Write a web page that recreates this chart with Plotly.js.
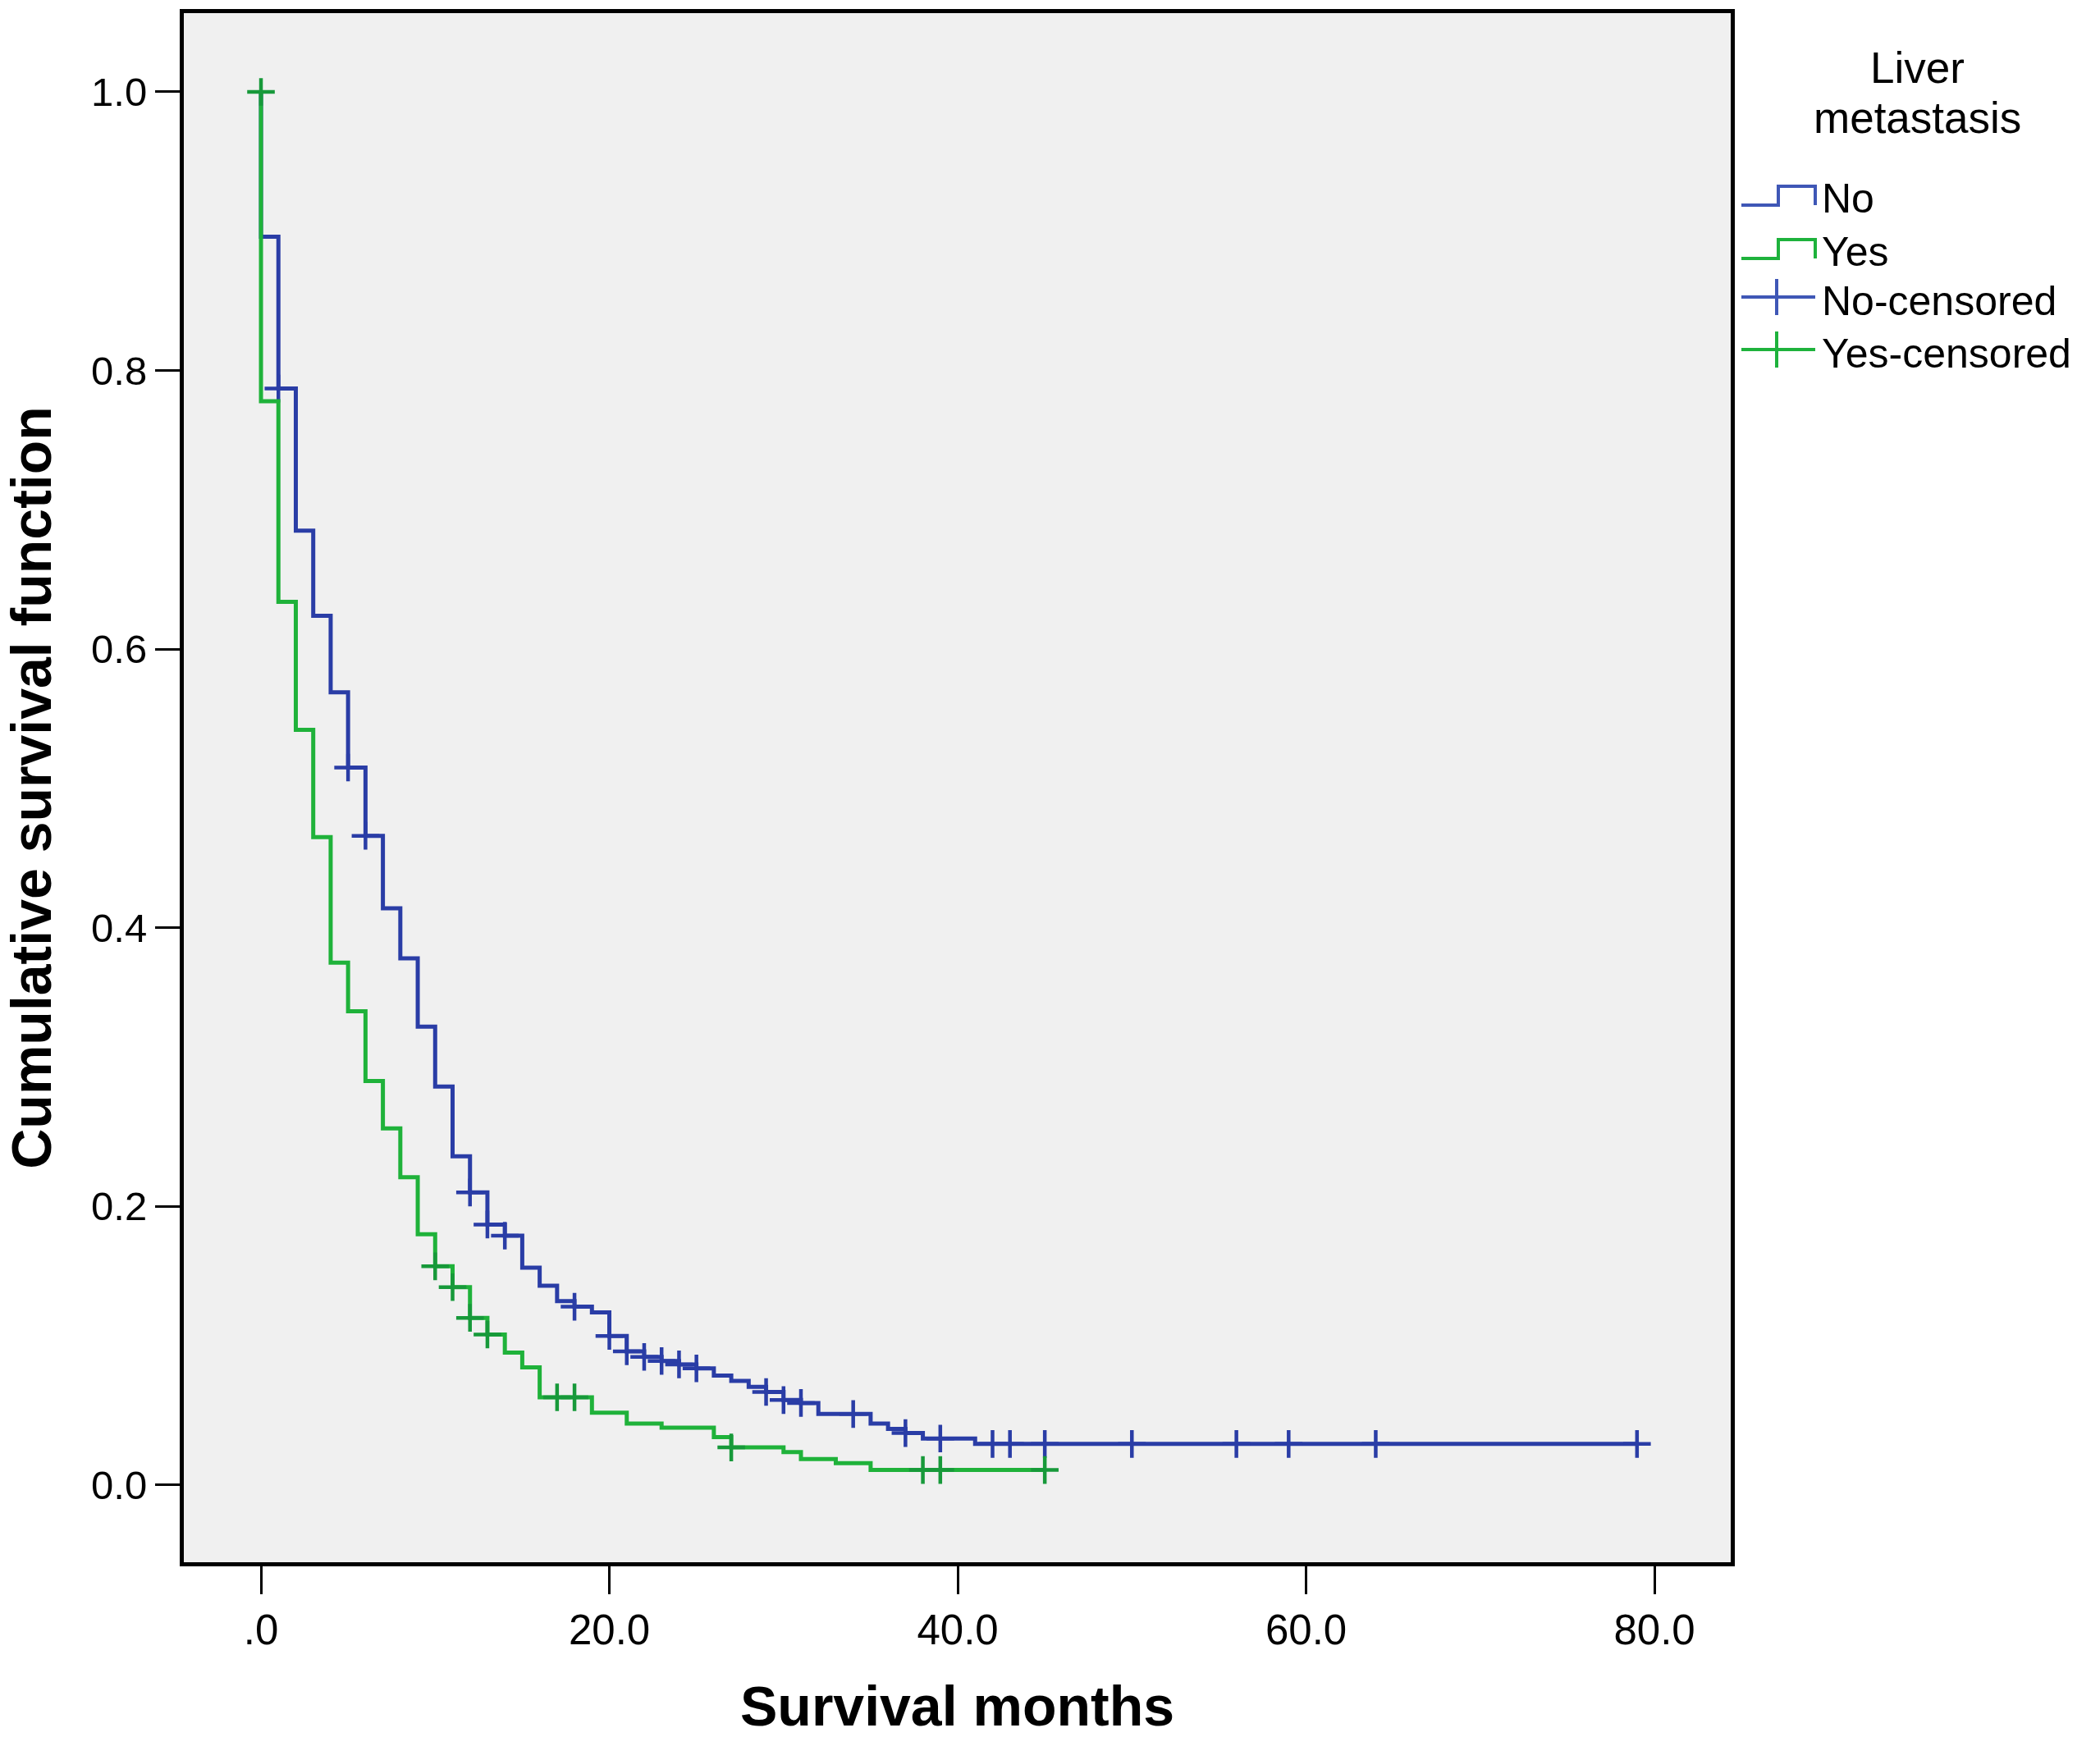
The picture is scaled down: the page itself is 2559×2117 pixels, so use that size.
<!DOCTYPE html>
<html>
<head>
<meta charset="utf-8">
<script src="https://cdn.plot.ly/plotly-3.0.1.min.js"></script>
<style>html,body{margin:0;padding:0;background:#ffffff;}</style>
</head>
<body>
<div id="chart" style="width:2559px;height:2117px;"></div>
<script>
// ---- Data ----
const noEventTimes = [0,1,2,3,4,5,6,7,8,9,10,11,12,13,14,15,16,17,18,19,20,21,22,23,24,25,26,27,28,29,30,31,32,35,36,37,38,41];
const noSurvival   = [0.896,0.787,0.685,0.624,0.569,0.515,0.466,0.414,0.378,0.329,0.286,0.236,0.210,0.187,0.179,0.156,0.143,0.132,0.128,0.124,0.107,0.096,0.092,0.089,0.0866,0.0837,0.0786,0.0747,0.0705,0.0668,0.0610,0.0589,0.0510,0.0442,0.0403,0.0373,0.0334,0.0295];
const noCensoredTimes = [1,5,6,12,13,14,18,20,21,22,23,24,25,29,30,31,34,37,39,42,43,45,50,56,59,64,79];
const noEndTime = 79;

const yesEventTimes = [0,1,2,3,4,5,6,7,8,9,10,11,12,13,14,15,16,19,21,23,26,27,30,31,33,35];
const yesSurvival   = [0.778,0.634,0.542,0.465,0.375,0.340,0.290,0.256,0.221,0.180,0.157,0.142,0.120,0.108,0.095,0.0845,0.063,0.052,0.0442,0.0412,0.0344,0.027,0.0236,0.0187,0.0157,0.0108];
const yesCensoredTimes = [0,10,11,12,13,17,18,27,38,39,45];
const yesEndTime = 45;

const xTickVals = [0,20,40,60,80];
const xTickText = ['.0','20.0','40.0','60.0','80.0'];
const yTickVals = [0,0.2,0.4,0.6,0.8,1.0];
const yTickText = ['0.0','0.2','0.4','0.6','0.8','1.0'];

const legendTitle = ['Liver','metastasis'];
const legendLabels = ['No','Yes','No-censored','Yes-censored'];

const xAxisTitle = 'Survival months';
const yAxisTitle = 'Cumulative survival function';

// ---- Styles ----
const BLUE = '#2a3da6';
const GREEN = '#1fb23a';
const BLUE_LEG = '#3f57b6';
const GREEN_LEG = '#1eb23c';
const FONT = 'Liberation Sans, Arial, sans-serif';

// ---- Helpers ----
function stepCurve(times, surv, endTime) {
  const x = [0], y = [1];
  for (let i = 0; i < times.length; i++) { x.push(times[i]); y.push(surv[i]); }
  x.push(endTime); y.push(surv[surv.length - 1]);
  return {x: x, y: y};
}
function survivalAt(times, surv, t) {
  if (t <= 0) return 1;
  let s = 1;
  for (let i = 0; i < times.length; i++) { if (times[i] <= t) s = surv[i]; }
  return s;
}

const noCurve = stepCurve(noEventTimes, noSurvival, noEndTime);
const yesCurve = stepCurve(yesEventTimes, yesSurvival, yesEndTime);

const traces = [
  {x: noCurve.x, y: noCurve.y, type: 'scatter', mode: 'lines', line: {shape: 'hv', color: BLUE, width: 5}, name: legendLabels[0], showlegend: false, hoverinfo: 'skip'},
  {x: noCensoredTimes, y: noCensoredTimes.map(t => survivalAt(noEventTimes, noSurvival, t)), type: 'scatter', mode: 'markers',
   marker: {symbol: 'cross-thin', size: 24, color: BLUE, line: {color: BLUE, width: 4.5}}, name: legendLabels[2], showlegend: false, cliponaxis: false},
  {x: yesCurve.x, y: yesCurve.y, type: 'scatter', mode: 'lines', line: {shape: 'hv', color: GREEN, width: 5}, name: legendLabels[1], showlegend: false, hoverinfo: 'skip'},
  {x: yesCensoredTimes, y: yesCensoredTimes.map(t => survivalAt(yesEventTimes, yesSurvival, t)), type: 'scatter', mode: 'markers',
   marker: {symbol: 'cross-thin', size: 24, color: '#17993a', line: {color: '#17993a', width: 4.5}}, name: legendLabels[3], showlegend: false, cliponaxis: false}
];

// ---- Manual legend (pixel layout converted to paper coords) ----
const W = 2559, H = 2117;
const M = {l: 224, r: 450, t: 16, b: 213};
const PW = W - M.l - M.r, PH = H - M.t - M.b;
const px = v => (v - M.l) / PW;
const py = v => (H - M.b - v) / PH;

const shapes = [];
const annotations = [];
const legendColors = [BLUE_LEG, GREEN_LEG, BLUE_LEG, GREEN_LEG];
const rowCenters = [242, 307, 367, 431];

annotations.push({xref: 'paper', yref: 'paper', x: px(2336), y: py(83), xanchor: 'center', yanchor: 'middle', showarrow: false,
  text: legendTitle[0], font: {family: FONT, size: 53, color: '#000'}});
annotations.push({xref: 'paper', yref: 'paper', x: px(2336), y: py(143), xanchor: 'center', yanchor: 'middle', showarrow: false,
  text: legendTitle[1], font: {family: FONT, size: 53, color: '#000'}});

legendLabels.forEach((lab, i) => {
  const yc = rowCenters[i];
  annotations.push({xref: 'paper', yref: 'paper', x: px(2218), y: py(yc), xanchor: 'left', yanchor: 'middle', showarrow: false,
    text: lab, font: {family: FONT, size: 50, color: '#000'}});
  if (i < 2) {
    const lo = yc + 8, hi = yc - 15;
    const path = 'M ' + px(2122) + ',' + py(lo) + ' L ' + px(2167) + ',' + py(lo) + ' L ' + px(2167) + ',' + py(hi) +
                 ' L ' + px(2212) + ',' + py(hi) + ' L ' + px(2212) + ',' + py(lo);
    shapes.push({type: 'path', xref: 'paper', yref: 'paper', path: path, line: {color: legendColors[i], width: 4}});
  } else {
    const ym = yc - 5;
    shapes.push({type: 'line', xref: 'paper', yref: 'paper', x0: px(2122), x1: px(2212), y0: py(ym), y1: py(ym), line: {color: legendColors[i], width: 4}});
    shapes.push({type: 'line', xref: 'paper', yref: 'paper', x0: px(2165), x1: px(2165), y0: py(ym - 22), y1: py(ym + 22), line: {color: legendColors[i], width: 4}});
  }
});

const layout = {
  width: W, height: H,
  margin: M,
  paper_bgcolor: '#ffffff',
  plot_bgcolor: '#f0f0f0',
  showlegend: false,
  font: {family: FONT, color: '#000'},
  xaxis: {
    range: [-4.43, 84.38], tickmode: 'array', tickvals: xTickVals, ticktext: xTickText,
    showgrid: false, zeroline: false, showline: true, linecolor: '#000', linewidth: 5, mirror: true,
    ticks: 'outside', ticklen: 34, tickwidth: 3, tickcolor: '#000',
    tickfont: {family: FONT, size: 51, color: '#000'},
    title: {text: xAxisTitle, font: {family: FONT, size: 68, color: '#000', weight: 'bold'}, standoff: 52},
    automargin: false
  },
  yaxis: {
    range: [-0.0554, 1.0565], tickmode: 'array', tickvals: yTickVals, ticktext: yTickText,
    showgrid: false, zeroline: false, showline: true, linecolor: '#000', linewidth: 5, mirror: true,
    ticks: 'outside', ticklen: 30, tickwidth: 3, tickcolor: '#000',
    tickfont: {family: FONT, size: 49, color: '#000'},
    title: {text: yAxisTitle, font: {family: FONT, size: 68, color: '#000', weight: 'bold'}, standoff: 45},
    automargin: false
  },
  shapes: shapes,
  annotations: annotations
};

Plotly.newPlot('chart', traces, layout, {staticPlot: true, displayModeBar: false});
</script>
</body>
</html>
